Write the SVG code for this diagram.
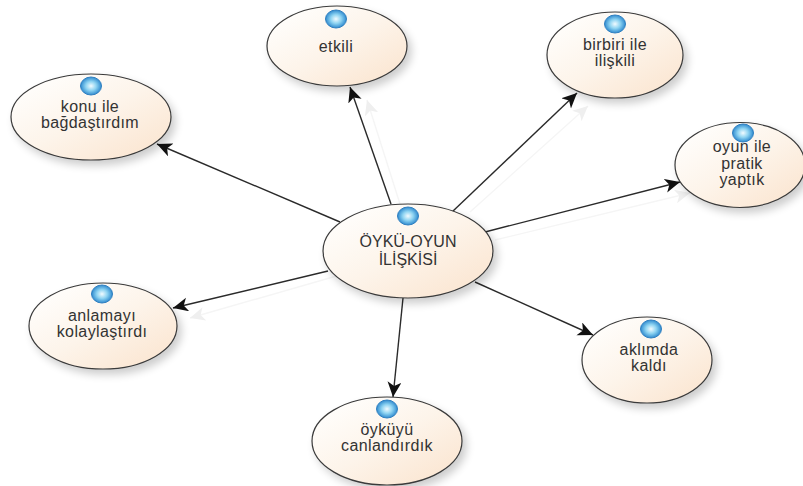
<svg xmlns="http://www.w3.org/2000/svg" width="803" height="486" viewBox="0 0 803 486">
<style>
.n{fill:url(#peach);stroke:#3a3a3a;stroke-width:1.2;filter:url(#sh)}
.b{fill:url(#ball);stroke:#2f7fc0;stroke-width:1}
text{font-family:"Liberation Sans",Arial,sans-serif;font-size:16px;letter-spacing:.4px;fill:#333;text-anchor:middle}
.t{letter-spacing:0}
.c{stroke:#2a2a2a;stroke-width:1.4;fill:none;marker-end:url(#ah)}
.g{stroke:#f5f5f5;stroke-width:1.4;fill:none;marker-end:url(#gh)}
</style>
<defs>
<linearGradient id="peach" x1="0.1" y1="0.1" x2="0.9" y2="0.9"><stop offset="0" stop-color="#fffefc"/><stop offset="0.5" stop-color="#fdf4ea"/><stop offset="1" stop-color="#fbe6d2"/></linearGradient>
<radialGradient id="ball" cx="0.5" cy="0.5" r="0.55"><stop offset="0" stop-color="#f2fbff"/><stop offset="0.45" stop-color="#8fd4f2"/><stop offset="1" stop-color="#1c7cc8"/></radialGradient>
<filter id="sh" x="-15%" y="-15%" width="135%" height="140%"><feGaussianBlur in="SourceAlpha" stdDeviation="4"/><feOffset dx="4" dy="5"/><feComponentTransfer><feFuncA type="linear" slope="0.2"/></feComponentTransfer><feMerge><feMergeNode/><feMergeNode in="SourceGraphic"/></feMerge></filter>
<marker id="ah" markerUnits="userSpaceOnUse" markerWidth="18" markerHeight="16" refX="15" refY="7" orient="auto"><path d="M0 0L15 7L0 14L4 7Z" fill="#111"/></marker>
<marker id="gh" markerUnits="userSpaceOnUse" markerWidth="18" markerHeight="16" refX="15" refY="7" orient="auto"><path d="M0 0L15 7L0 14L4 7Z" fill="#efefef"/></marker>
</defs>
<rect width="803" height="486" fill="#fff"/>
<g id="connectors">
<line class="g" x1="400" y1="204" x2="367" y2="100"/>
<line class="g" x1="470" y1="212" x2="588" y2="106"/>
<line class="g" x1="495" y1="240" x2="690" y2="193"/>
<line class="g" x1="340" y1="275" x2="190" y2="318"/>
<line class="c" x1="391" y1="204" x2="350" y2="87"/>
<line class="c" x1="452" y1="212" x2="577" y2="93"/>
<line class="c" x1="340" y1="222" x2="157" y2="144"/>
<line class="c" x1="485" y1="232" x2="680" y2="182"/>
<line class="c" x1="328" y1="271" x2="173" y2="308"/>
<line class="c" x1="403" y1="298" x2="393" y2="397"/>
<line class="c" x1="475" y1="282" x2="593" y2="335"/>
</g>
<g id="center"><ellipse class="n" cx="408" cy="251" rx="85" ry="47"/><ellipse class="b" cx="408" cy="216" rx="10.5" ry="9"/><text class="t" x="408" y="247">ÖYKÜ-OYUN</text><text class="t" x="408" y="265">İLİŞKİSİ</text></g>
<g id="etkili"><ellipse class="n" cx="337" cy="46" rx="70" ry="40"/><ellipse class="b" cx="336" cy="19" rx="10.5" ry="9"/><text x="336" y="52">etkili</text></g>
<g id="birbiri"><ellipse class="n" cx="615" cy="55" rx="68" ry="43"/><ellipse class="b" cx="615" cy="24" rx="10.5" ry="9"/><text x="615" y="50">birbiri ile</text><text x="615" y="66">ilişkili</text></g>
<g id="konu"><ellipse class="n" cx="91" cy="117" rx="80" ry="43"/><ellipse class="b" cx="91" cy="86" rx="10.5" ry="9"/><text x="90" y="112">konu ile</text><text x="90" y="128">bağdaştırdım</text></g>
<g id="oyun"><ellipse class="n" cx="740" cy="165" rx="65" ry="42.5"/><ellipse class="b" cx="743" cy="133" rx="10.5" ry="9"/><text x="742" y="152">oyun ile</text><text x="742" y="169">pratik</text><text x="742" y="185">yaptık</text></g>
<g id="anlamayi"><ellipse class="n" cx="103" cy="326" rx="74" ry="43"/><ellipse class="b" cx="102" cy="294" rx="10.5" ry="9"/><text x="102" y="321">anlamayı</text><text x="102" y="337">kolaylaştırdı</text></g>
<g id="oykuyu"><ellipse class="n" cx="387" cy="441" rx="75" ry="44"/><ellipse class="b" cx="387" cy="409" rx="10.5" ry="9"/><text x="387" y="435">öyküyü</text><text x="387" y="451">canlandırdık</text></g>
<g id="aklimda"><ellipse class="n" cx="647" cy="360" rx="65" ry="43"/><ellipse class="b" cx="651" cy="329" rx="10.5" ry="9"/><text x="649" y="355">aklımda</text><text x="649" y="371">kaldı</text></g>
</svg>
